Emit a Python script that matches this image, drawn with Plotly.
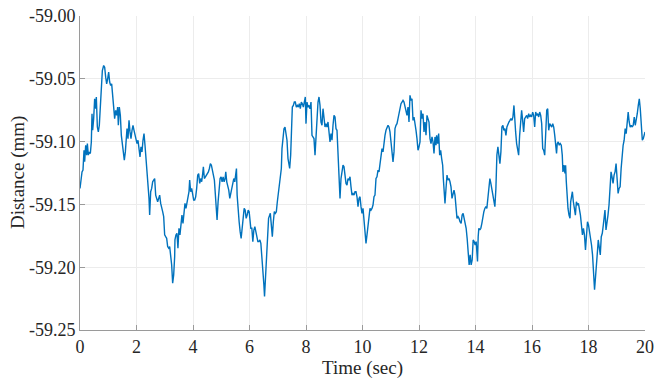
import plotly.graph_objects as go

# ---- data (time in s, distance in mm) ----
time_seg1 = [0.000, 0.071, 0.106, 0.142, 0.165, 0.201, 0.236, 0.260, 0.295, 0.330,
             0.366, 0.401, 0.425, 0.448, 0.484, 0.519, 0.555, 0.578, 0.614, 0.649,
             0.684, 0.720, 0.755, 0.791, 0.838, 0.873, 0.909, 0.944, 0.979, 1.015,
             1.050, 1.086, 1.121, 1.156, 1.192, 1.227, 1.263, 1.298, 1.333, 1.357,
             1.392, 1.428, 1.463, 1.499, 1.534, 1.569, 1.605, 1.640, 1.664, 1.699,
             1.735, 1.770, 1.805, 1.841, 1.876, 1.912, 1.947, 1.982, 2.018, 2.053,
             2.089, 2.124, 2.159, 2.195, 2.230, 2.266, 2.301, 2.336, 2.372, 2.407,
             2.443, 2.466, 2.502, 2.537, 2.572, 2.608, 2.643, 2.679, 2.714, 2.749,
             2.785, 2.820, 2.856, 2.891, 2.926, 2.962, 2.997, 3.033, 3.068, 3.103,
             3.139, 3.174, 3.210, 3.245, 3.280, 3.316, 3.351]
dist_seg1 = [-59.1373, -59.1241, -59.1227, -59.1069, -59.1161, -59.1029, -59.1108, -59.1016, -59.1108, -59.1082,
             -59.1095, -59.1003, -59.0778, -59.0910, -59.0817, -59.0659, -59.0738, -59.0645, -59.0884, -59.0923,
             -59.0870, -59.0712, -59.0526, -59.0434, -59.0394, -59.0407, -59.0487, -59.0540, -59.0500, -59.0447,
             -59.0526, -59.0553, -59.0540, -59.0632, -59.0712, -59.0817, -59.0751, -59.0791, -59.0725, -59.0870,
             -59.0725, -59.0791, -59.0950, -59.1029, -59.1108, -59.1148, -59.1082, -59.0936, -59.0897, -59.0976,
             -59.0831, -59.0923, -59.0976, -59.0910, -59.0870, -59.0910, -59.0950, -59.0963, -59.1016, -59.0989,
             -59.1056, -59.1122, -59.1042, -59.1082, -59.0989, -59.0936, -59.1029, -59.1122, -59.1214, -59.1347,
             -59.1452, -59.1585, -59.1399, -59.1373, -59.1320, -59.1307, -59.1294, -59.1426, -59.1452, -59.1479,
             -59.1452, -59.1426, -59.1492, -59.1545, -59.1558, -59.1598, -59.1743, -59.1757, -59.1770, -59.1836,
             -59.1849, -59.1836, -59.1902, -59.1982, -59.2127, -59.2061, -59.1915]

time_seg2 = [3.361, 3.396, 3.432, 3.467, 3.503, 3.538, 3.574, 3.609, 3.645, 3.680,
             3.716, 3.751, 3.787, 3.822, 3.858, 3.882, 3.917, 3.953, 3.988, 4.024,
             4.059, 4.095, 4.130, 4.166, 4.201, 4.237, 4.272, 4.308, 4.343, 4.367,
             4.402, 4.438, 4.473, 4.509, 4.544, 4.580, 4.615, 4.651, 4.686, 4.722,
             4.757, 4.793, 4.828, 4.852, 4.888, 4.923, 4.959, 4.994, 5.030, 5.065,
             5.101, 5.136, 5.160, 5.195, 5.231, 5.266, 5.302, 5.337, 5.373, 5.408,
             5.444, 5.479, 5.515, 5.538, 5.562, 5.598, 5.633, 5.669, 5.704, 5.740,
             5.775, 5.811, 5.846, 5.882, 5.917, 5.953, 5.988, 6.012, 6.047, 6.083,
             6.118, 6.154, 6.189, 6.225, 6.260, 6.296, 6.331, 6.367, 6.402, 6.438,
             6.473, 6.509, 6.532, 6.568, 6.604, 6.639, 6.675]
dist_seg2 = [-59.1783, -59.1743, -59.1730, -59.1849, -59.1690, -59.1743, -59.1638, -59.1585, -59.1651, -59.1558,
             -59.1492, -59.1532, -59.1479, -59.1413, -59.1399, -59.1307, -59.1399, -59.1373, -59.1426, -59.1466,
             -59.1466, -59.1439, -59.1373, -59.1267, -59.1254, -59.1333, -59.1294, -59.1320, -59.1254, -59.1201,
             -59.1294, -59.1280, -59.1267, -59.1254, -59.1241, -59.1214, -59.1175, -59.1188, -59.1241, -59.1267,
             -59.1307, -59.1426, -59.1558, -59.1624, -59.1479, -59.1347, -59.1294, -59.1280, -59.1320, -59.1280,
             -59.1320, -59.1294, -59.1241, -59.1320, -59.1347, -59.1386, -59.1452, -59.1413, -59.1373, -59.1307,
             -59.1294, -59.1320, -59.1267, -59.1214, -59.1426, -59.1558, -59.1638, -59.1717, -59.1770, -59.1690,
             -59.1585, -59.1532, -59.1545, -59.1611, -59.1585, -59.1545, -59.1558, -59.1638, -59.1690, -59.1690,
             -59.1796, -59.1704, -59.1677, -59.1717, -59.1757, -59.1796, -59.1796, -59.1783, -59.1810, -59.1902,
             -59.2008, -59.2140, -59.2233, -59.2088, -59.1876, -59.1717, -59.1611]

time_seg3 = [6.737, 6.773, 6.808, 6.844, 6.879, 6.914, 6.950, 6.985, 7.021, 7.056,
             7.091, 7.127, 7.150, 7.186, 7.221, 7.257, 7.292, 7.327, 7.363, 7.398,
             7.422, 7.457, 7.493, 7.516, 7.552, 7.587, 7.622, 7.658, 7.693, 7.729,
             7.764, 7.799, 7.835, 7.870, 7.906, 7.941, 7.976, 8.000, 8.035, 8.071,
             8.106, 8.142, 8.177, 8.212, 8.248, 8.283, 8.319, 8.354, 8.389, 8.425,
             8.460, 8.496, 8.531, 8.566, 8.602, 8.637, 8.673, 8.708, 8.743, 8.779,
             8.814, 8.850, 8.885, 8.920, 8.956, 8.991, 9.027, 9.062, 9.097, 9.133,
             9.168, 9.204, 9.239, 9.274, 9.310, 9.345, 9.381, 9.416, 9.451, 9.487,
             9.522, 9.558, 9.593, 9.628, 9.664, 9.699, 9.735, 9.770, 9.805, 9.841,
             9.876, 9.912, 9.947, 9.982, 10.018]
dist_seg3 = [-59.1571, -59.1664, -59.1757, -59.1638, -59.1558, -59.1571, -59.1558, -59.1479, -59.1399, -59.1347,
             -59.1294, -59.1214, -59.1056, -59.0963, -59.0897, -59.0884, -59.0923, -59.0989, -59.1135, -59.1188,
             -59.1214, -59.1108, -59.0897, -59.0725, -59.0712, -59.0685, -59.0685, -59.0725, -59.0712, -59.0725,
             -59.0698, -59.0738, -59.0685, -59.0698, -59.0725, -59.0672, -59.0645, -59.0857, -59.0685, -59.0725,
             -59.0712, -59.0738, -59.0685, -59.0950, -59.0963, -59.0976, -59.1108, -59.0923, -59.0765, -59.0685,
             -59.0645, -59.0712, -59.0844, -59.0870, -59.0738, -59.0844, -59.0884, -59.0857, -59.0884, -59.0844,
             -59.0923, -59.1003, -59.0936, -59.0989, -59.0870, -59.0791, -59.0804, -59.0897, -59.0910, -59.1108,
             -59.1188, -59.1452, -59.1294, -59.1214, -59.1188, -59.1201, -59.1294, -59.1333, -59.1347, -59.1294,
             -59.1307, -59.1280, -59.1360, -59.1426, -59.1413, -59.1426, -59.1399, -59.1399, -59.1439, -59.1518,
             -59.1452, -59.1439, -59.1518, -59.1571, -59.1532]

time_seg4 = [10.065, 10.100, 10.124, 10.159, 10.195, 10.230, 10.265, 10.301, 10.336, 10.372,
             10.407, 10.442, 10.478, 10.513, 10.549, 10.584, 10.619, 10.655, 10.690, 10.726,
             10.761, 10.796, 10.832, 10.867, 10.903, 10.938, 10.973, 11.009, 11.044, 11.080,
             11.115, 11.150, 11.186, 11.221, 11.257, 11.292, 11.327, 11.363, 11.398, 11.434,
             11.469, 11.504, 11.540, 11.575, 11.611, 11.646, 11.681, 11.717, 11.752, 11.788,
             11.823, 11.858, 11.894, 11.929, 11.965, 12.000, 12.035, 12.071, 12.106, 12.142,
             12.177, 12.212, 12.248, 12.283, 12.319, 12.354, 12.389, 12.425, 12.460, 12.496,
             12.531, 12.566, 12.602, 12.625, 12.661, 12.696, 12.732, 12.767, 12.802, 12.838,
             12.861, 12.897, 12.920, 12.956, 12.991, 13.027, 13.062, 13.097, 13.133, 13.168,
             13.204, 13.239, 13.274, 13.310, 13.345, 13.381, 13.416, 13.451]
dist_seg4 = [-59.1638, -59.1743, -59.1810, -59.1743, -59.1664, -59.1558, -59.1532, -59.1545, -59.1532, -59.1505,
             -59.1439, -59.1426, -59.1294, -59.1280, -59.1227, -59.1241, -59.1188, -59.1108, -59.1056, -59.1082,
             -59.0989, -59.0950, -59.0910, -59.0884, -59.0870, -59.0884, -59.0923, -59.1003, -59.1095, -59.1161,
             -59.1082, -59.0897, -59.0870, -59.0857, -59.0817, -59.0778, -59.0725, -59.0698, -59.0685, -59.0672,
             -59.0685, -59.0725, -59.0751, -59.0791, -59.0725, -59.0844, -59.0632, -59.0672, -59.0659, -59.0831,
             -59.0804, -59.0844, -59.0910, -59.0976, -59.1069, -59.1042, -59.1003, -59.0751, -59.0817, -59.0778,
             -59.0923, -59.0844, -59.0950, -59.0791, -59.0831, -59.0844, -59.0976, -59.1016, -59.0963, -59.1003,
             -59.1095, -59.0963, -59.1029, -59.0950, -59.1016, -59.0936, -59.1108, -59.1069, -59.1135, -59.1188,
             -59.1294, -59.1426, -59.1492, -59.1373, -59.1267, -59.1307, -59.1294, -59.1320, -59.1360, -59.1452,
             -59.1399, -59.1386, -59.1426, -59.1558, -59.1611, -59.1598, -59.1611, -59.1638]

time_seg5 = [13.491, 13.527, 13.562, 13.598, 13.633, 13.669, 13.704, 13.740, 13.775, 13.811,
             13.846, 13.882, 13.917, 13.953, 13.988, 14.024, 14.047, 14.071, 14.095, 14.118,
             14.154, 14.189, 14.225, 14.260, 14.296, 14.331, 14.367, 14.402, 14.438, 14.473,
             14.509, 14.544, 14.580, 14.615, 14.651, 14.686, 14.722, 14.757, 14.793, 14.828,
             14.864, 14.899, 14.935, 14.970, 15.006, 15.041, 15.077, 15.112, 15.148, 15.183,
             15.219, 15.254, 15.290, 15.325, 15.361, 15.385, 15.420, 15.456, 15.491, 15.527,
             15.562, 15.598, 15.633, 15.669, 15.704, 15.740, 15.775, 15.811, 15.846, 15.882,
             15.917, 15.953, 15.988, 16.024, 16.059, 16.095, 16.130, 16.166, 16.201, 16.237,
             16.272, 16.308, 16.343, 16.379, 16.414, 16.450, 16.485, 16.521, 16.556, 16.592,
             16.627, 16.663, 16.698, 16.734, 16.769, 16.805]
dist_seg5 = [-59.1651, -59.1585, -59.1571, -59.1611, -59.1651, -59.1690, -59.1770, -59.1902, -59.1982, -59.1902,
             -59.1982, -59.1942, -59.1783, -59.1796, -59.1823, -59.1796, -59.1849, -59.1955, -59.1757, -59.1690,
             -59.1704, -59.1690, -59.1651, -59.1585, -59.1558, -59.1532, -59.1518, -59.1532, -59.1452, -59.1360,
             -59.1294, -59.1333, -59.1386, -59.1452, -59.1505, -59.1518, -59.1373, -59.1108, -59.1042, -59.1135,
             -59.1175, -59.1082, -59.0884, -59.0870, -59.0910, -59.0897, -59.0950, -59.0884, -59.0857, -59.0844,
             -59.0831, -59.0817, -59.0831, -59.0804, -59.0712, -59.0831, -59.0923, -59.1016, -59.1069, -59.1108,
             -59.0950, -59.0817, -59.0751, -59.0831, -59.0923, -59.0817, -59.0804, -59.0791, -59.0817, -59.0778,
             -59.0804, -59.0791, -59.0804, -59.0765, -59.0791, -59.0884, -59.0765, -59.0791, -59.0778, -59.0804,
             -59.0765, -59.0791, -59.0857, -59.1056, -59.1069, -59.1108, -59.0936, -59.0751, -59.0738, -59.0910,
             -59.0857, -59.0870, -59.0884, -59.0857, -59.0884, -59.0950]

time_seg6 = [16.833, 16.869, 16.893, 16.929, 16.964, 17.000, 17.036, 17.071, 17.095, 17.131,
             17.167, 17.190, 17.214, 17.238, 17.274, 17.310, 17.345, 17.369, 17.405, 17.429,
             17.464, 17.500, 17.536, 17.571, 17.607, 17.643, 17.679, 17.714, 17.750, 17.786,
             17.821, 17.857, 17.893, 17.929, 17.964, 18.000, 18.036, 18.071, 18.107, 18.143,
             18.167, 18.190, 18.214, 18.250, 18.286, 18.321, 18.345, 18.381, 18.417, 18.452,
             18.488, 18.524, 18.560, 18.583, 18.619, 18.655, 18.690, 18.726, 18.762, 18.798,
             18.833, 18.869, 18.905, 18.940, 18.976, 19.012, 19.048, 19.083, 19.119, 19.155,
             19.190, 19.226, 19.262, 19.298, 19.333, 19.369, 19.405, 19.440, 19.476, 19.512,
             19.548, 19.583, 19.619, 19.655, 19.690, 19.726, 19.762, 19.798, 19.833, 19.869,
             19.905, 19.940, 19.976, 20.000]
dist_seg6 = [-59.1029, -59.1095, -59.1016, -59.1003, -59.1029, -59.1016, -59.1029, -59.1108, -59.1241, -59.1188,
             -59.1254, -59.1188, -59.1320, -59.1426, -59.1532, -59.1585, -59.1611, -59.1479, -59.1426, -59.1399,
             -59.1479, -59.1532, -59.1585, -59.1479, -59.1505, -59.1492, -59.1532, -59.1585, -59.1664, -59.1743,
             -59.1690, -59.1743, -59.1862, -59.1757, -59.1638, -59.1664, -59.1717, -59.1757, -59.1823, -59.1902,
             -59.2008, -59.2114, -59.2180, -59.2074, -59.1995, -59.1862, -59.1783, -59.1836, -59.1902, -59.1757,
             -59.1730, -59.1664, -59.1585, -59.1545, -59.1704, -59.1611, -59.1585, -59.1505, -59.1373, -59.1241,
             -59.1280, -59.1333, -59.1267, -59.1241, -59.1175, -59.1320, -59.1413, -59.1373, -59.1360, -59.1214,
             -59.1069, -59.1029, -59.0989, -59.0897, -59.0936, -59.0844, -59.0765, -59.0844, -59.0884, -59.0870,
             -59.0884, -59.0870, -59.0804, -59.0870, -59.0831, -59.0778, -59.0712, -59.0659, -59.0738, -59.0897,
             -59.0989, -59.0976, -59.0936, -59.0923]

x_ticks = [0, 2, 4, 6, 8, 10, 12, 14, 16, 18, 20]
x_tick_labels = ["0", "2", "4", "6", "8", "10", "12", "14", "16", "18", "20"]
y_ticks = [-59.25, -59.20, -59.15, -59.10, -59.05, -59.00]
y_tick_labels = ["-59.25", "-59.20", "-59.15", "-59.10", "-59.05", "-59.00"]
x_title = "Time (sec)"
y_title = "Distance (mm)"

time_s = time_seg1 + time_seg2 + time_seg3 + time_seg4 + time_seg5 + time_seg6
dist_mm = dist_seg1 + dist_seg2 + dist_seg3 + dist_seg4 + dist_seg5 + dist_seg6

FONT = "'Liberation Serif', 'DejaVu Serif', 'Times New Roman', serif"
TXT = "#262626"
AX = "#9a9a9a"
GRID = "#ececec"

fig = go.Figure(go.Scatter(x=time_s, y=dist_mm, mode="lines",
                           line=dict(color="#0072BD", width=1.4),
                           showlegend=False, hoverinfo="skip"))

fig.update_layout(
    width=654, height=379,
    margin=dict(l=80, r=9, t=16, b=49),
    paper_bgcolor="white", plot_bgcolor="white",
    font=dict(family=FONT, color=TXT, size=18),
    annotations=[dict(text=y_title, xref="paper", yref="paper",
                      x=-0.1097, y=0.5, xanchor="center", yanchor="middle",
                      textangle=-90, showarrow=False,
                      font=dict(family=FONT, size=19, color=TXT))],
)
fig.update_xaxes(
    range=[0, 20], tickvals=x_ticks, ticktext=x_tick_labels,
    ticks="inside", ticklen=5, tickcolor=AX, tickwidth=1,
    showline=True, linecolor=AX, linewidth=1, mirror=False,
    showgrid=True, gridcolor=GRID, gridwidth=1, zeroline=False,
    tickfont=dict(family=FONT, size=18, color=TXT),
    title=dict(text=x_title, font=dict(family=FONT, size=19, color=TXT), standoff=3),
    automargin=False,
)
fig.update_yaxes(
    range=[-59.25, -59.00], tickvals=y_ticks, ticktext=y_tick_labels,
    ticks="inside", ticklen=5, tickcolor=AX, tickwidth=1,
    showline=True, linecolor=AX, linewidth=1, mirror=False,
    showgrid=True, gridcolor=GRID, gridwidth=1, zeroline=False,
    tickfont=dict(family=FONT, size=18, color=TXT),
    automargin=False,
)

fig.write_html("out.html", config={"displayModeBar": False},
               post_script="document.body.style.margin='0';document.body.style.overflow='hidden';")
